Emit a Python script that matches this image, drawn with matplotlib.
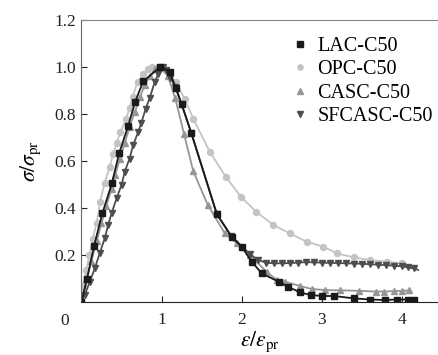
import matplotlib
matplotlib.use("Agg")
import matplotlib.pyplot as plt

plt.rcParams['font.family'] = ['Liberation Serif', 'DejaVu Serif']
plt.rcParams['mathtext.fontset'] = 'stix'

# LAC-C50
lac_x = [0, 0.07, 0.158, 0.26, 0.38, 0.47, 0.583, 0.67, 0.77, 0.98, 1.10, 1.18, 1.25, 1.37,
         1.69, 1.875, 2.0, 2.125, 2.25, 2.46, 2.58, 2.73, 2.86, 3.0, 3.15, 3.4, 3.6, 3.79,
         3.94, 4.08, 4.15]
lac_y = [0, 0.10, 0.24, 0.377, 0.505, 0.633, 0.749, 0.852, 0.938, 1.0, 0.98, 0.909, 0.842, 0.72,
         0.373, 0.278, 0.235, 0.172, 0.122, 0.087, 0.065, 0.041, 0.03, 0.026, 0.026, 0.016, 0.011,
         0.009, 0.011, 0.011, 0.011]

# OPC-C50
opc_x = [0, 0.016, 0.058, 0.1, 0.14, 0.19, 0.233, 0.29, 0.354, 0.395, 0.44, 0.485, 0.558, 0.6,
         0.64, 0.70, 0.77, 0.83, 0.875, 0.95, 1.18, 1.29, 1.395, 1.6, 1.80, 1.99, 2.18, 2.395,
         2.60, 2.81, 3.02, 3.19, 3.40, 3.60, 3.81, 4.0]
opc_y = [0, 0.07, 0.136, 0.2, 0.268, 0.337, 0.427, 0.508, 0.576, 0.628, 0.677, 0.722, 0.78, 0.824,
         0.874, 0.937, 0.968, 0.99, 0.999, 1.0, 0.935, 0.862, 0.78, 0.64, 0.533, 0.448, 0.384, 0.328,
         0.292, 0.257, 0.235, 0.207, 0.19, 0.179, 0.172, 0.165]

# CASC-C50
casc_x = [0, 0.0625, 0.125, 0.19, 0.25, 0.31, 0.375, 0.42, 0.48, 0.54, 0.6, 0.667, 0.73, 0.79,
          0.854, 0.92, 1.0, 1.08, 1.17, 1.28, 1.395, 1.575, 1.79, 1.94, 2.1, 2.31, 2.44, 2.54,
          2.73, 2.875, 3.04, 3.23, 3.46, 3.67, 3.78, 3.90, 4.0, 4.09]
casc_y = [0, 0.10, 0.175, 0.26, 0.335, 0.41, 0.48, 0.54, 0.61, 0.675, 0.745, 0.81, 0.87, 0.925,
          0.96, 0.99, 1.0, 0.96, 0.867, 0.715, 0.557, 0.414, 0.292, 0.25, 0.2, 0.129, 0.094, 0.087,
          0.068, 0.056, 0.051, 0.05, 0.048, 0.045, 0.045, 0.047, 0.048, 0.05]

# SFCASC-C50
sf_x = [0, 0.04, 0.104, 0.166, 0.23, 0.29, 0.333, 0.375, 0.4375, 0.5, 0.54, 0.6, 0.645, 0.71,
        0.745, 0.80, 0.85, 0.916, 0.96, 1.02, 1.06, 1.11, 1.17, 1.25, 1.37, 1.69, 1.87, 2.1,
        2.2, 2.3, 2.4, 2.5, 2.6, 2.7, 2.8, 2.9, 3.0, 3.1, 3.2, 3.3, 3.4, 3.5, 3.6, 3.7, 3.8,
        3.9, 4.0, 4.07, 4.15, 4.2]
sf_y = [0, 0.03, 0.086, 0.143, 0.21, 0.271, 0.328, 0.377, 0.441, 0.498, 0.555, 0.61, 0.668, 0.725,
        0.76, 0.82, 0.867, 0.937, 0.97, 1.0, 0.985, 0.955, 0.915, 0.84, 0.72, 0.375, 0.28, 0.205,
        0.18, 0.168, 0.165, 0.165, 0.166, 0.168, 0.17, 0.169, 0.168, 0.167, 0.166, 0.165, 0.164,
        0.163, 0.161, 0.159, 0.157, 0.155, 0.152, 0.148, 0.143, 0.137]
sf_mark = list(range(len(sf_x) - 1))

fig = plt.figure(figsize=(4.38, 3.55), dpi=100)
ax = fig.add_axes([0.186, 0.149, 0.814, 0.795])

ax.plot(opc_x, opc_y, color='#c4c4c4', lw=1.3, marker='o', ms=4.3, label='OPC-C50')
ax.plot(casc_x, casc_y, color='#969696', lw=1.3, marker='^', ms=4.3, label='CASC-C50')
ax.plot(sf_x, sf_y, color='#4d4d4d', lw=1.3, marker='v', ms=4.3, markevery=sf_mark, label='SFCASC-C50')
ax.plot(lac_x, lac_y, color='#1a1a1a', lw=1.3, marker='s', ms=3.7, label='LAC-C50')

ax.set_xlim(0, 4.45)
ax.set_ylim(0, 1.2)
ax.set_xticks([1, 2, 3, 4])
ax.set_yticks([0.2, 0.4, 0.6, 0.8, 1.0, 1.2])
ax.set_yticklabels(['0.2', '0.4', '0.6', '0.8', '1.0', '1.2'])
ax.tick_params(direction='in', length=4, width=0.8, labelsize=12.5, colors='#222222')
ax.tick_params(axis='x', pad=7)
ax.tick_params(axis='y', pad=4)
ax.annotate('0', xy=(0, 0), xycoords='data', xytext=(-12, -8), textcoords='offset points',
            ha='center', va='top', fontsize=12.5, color='#222222')

ax.spines['right'].set_visible(False)
ax.spines['top'].set_color('#888888')
ax.spines['left'].set_color('#666666')
ax.spines['bottom'].set_color('#222222')

ax.set_xlabel(r'$\varepsilon/\varepsilon_{\rm pr}$', fontsize=15.5, labelpad=1)
ax.set_ylabel(r'$\sigma/\sigma_{\rm pr}$', fontsize=15.5, labelpad=8)

handles, labels = ax.get_legend_handles_labels()
order = [3, 0, 1, 2]
leg = ax.legend([handles[i] for i in order], [labels[i] for i in order],
                loc='upper right', bbox_to_anchor=(0.985, 0.94), frameon=False, fontsize=14.5,
                handlelength=0.6, handletextpad=0.55, labelspacing=0.22, numpoints=1,
                borderpad=0, borderaxespad=0)
for h in leg.legend_handles:
    h.set_linestyle('None')
    h.set_markersize(3.8)

fig.savefig('out.png', dpi=100)
